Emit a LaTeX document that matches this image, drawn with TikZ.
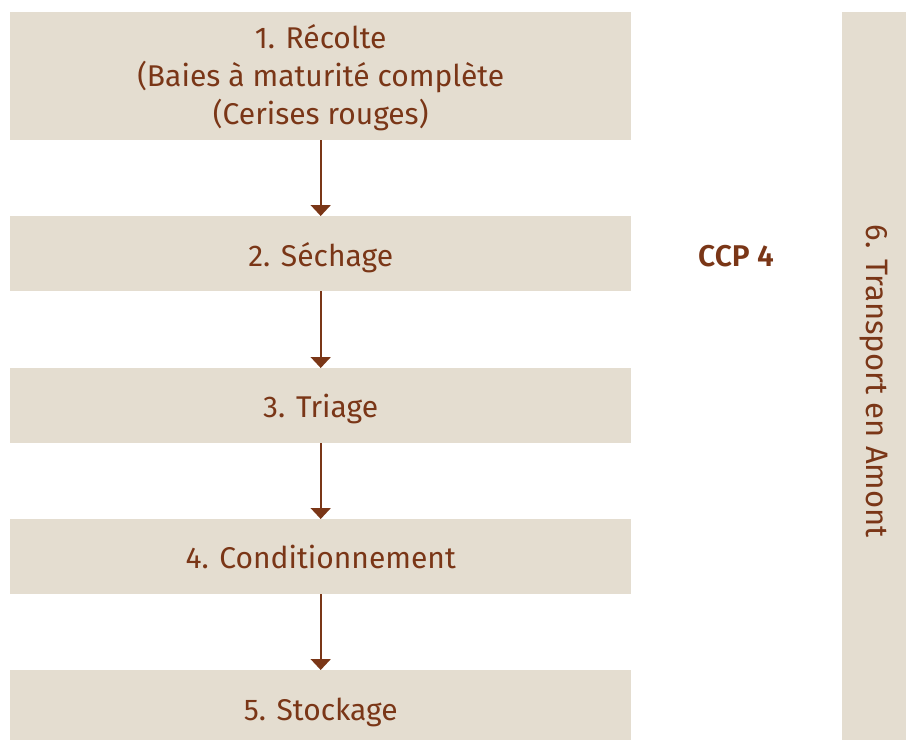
\documentclass[tikz,border=0pt]{standalone}
\usepackage{fontspec}
\setmainfont{Fira Sans}[BoldFont=Fira Sans SemiBold]
\usetikzlibrary{arrows.meta}
\definecolor{boxfill}{HTML}{E4DDD0}
\definecolor{brown}{HTML}{7A3617}
\newcommand\shiftdown[2]{\raisebox{-#1}[\height][\depth]{#2}}
\begin{document}
\begin{tikzpicture}[x=1pt,y=-1pt,
  stepbox/.style={fill=boxfill,draw=none,inner sep=0pt,minimum width=621pt,text=brown,font=\fontsize{30}{38}\selectfont,align=center,anchor=north west},
  flow/.style={draw=brown,line width=2pt,-{Triangle[width=20pt,length=11pt]}}]
\useasboundingbox (0,0) rectangle (906,740);
\node[stepbox,minimum height=128pt] (s1) at (10,12) {\shiftdown{3pt}{\begin{tabular}{@{}c@{}}1. Récolte\\(Baies à maturité complète\\(Cerises rouges)\end{tabular}}};
\node[stepbox,minimum height=75pt] (s2) at (10,216) {\shiftdown{4pt}{2. Séchage}};
\node[stepbox,minimum height=75pt] (s3) at (10,368) {\shiftdown{3pt}{3. Triage}};
\node[stepbox,minimum height=75pt] (s4) at (10,519) {4. Conditionnement};
\node[stepbox,minimum height=70pt] (s5) at (10,670) {\shiftdown{7pt}{5. Stockage}};
\node[fill=boxfill,inner sep=0pt,minimum width=64pt,minimum height=728pt,anchor=north west] (bar) at (842,12) {};
\node[text=brown,font=\fontsize{31}{34}\selectfont,rotate=-90] (tr) at ([yshift=-5pt]bar.center) {6. Transport en Amont};
\node[text=brown,font=\fontsize{30}{34}\selectfont\bfseries] (ccp) at (736,256) {CCP 4};
\foreach \a/\b in {s1/s2,s2/s3,s3/s4,s4/s5}{
  \draw[flow] (\a.south) -- (\b.north);
}
\end{tikzpicture}
\end{document}
